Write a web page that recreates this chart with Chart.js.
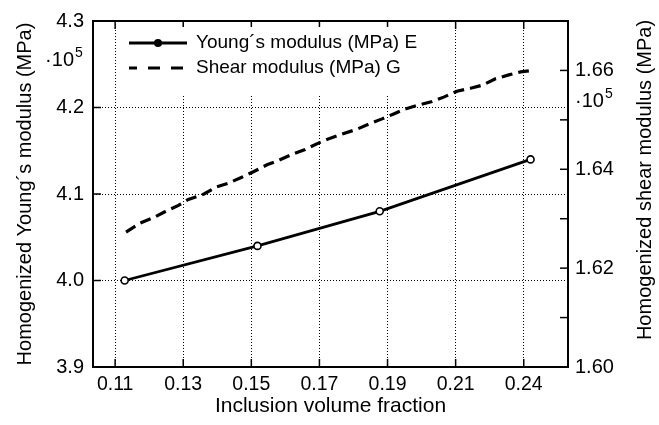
<!DOCTYPE html>
<html>
<head>
<meta charset="utf-8">
<script src="https://cdn.jsdelivr.net/npm/chart.js@4.4.1/dist/chart.umd.min.js"></script>
<style>
  html, body { margin: 0; padding: 0; background: #fff; }
  #wrap { width: 659px; height: 425px; }
</style>
</head>
<body>
<div id="wrap"><canvas id="myChart" width="659" height="425"></canvas></div>
<script>
// Young's modulus E (x 10^5 MPa) at four inclusion volume fractions
const fractionE = [0.1128, 0.1518, 0.1877, 0.2320];
const youngsE = [4.00, 4.04, 4.08, 4.14];

// Shear modulus G (x 10^5 MPa), traced densely
const fractionG = [0.1132, 0.1173, 0.1212, 0.1246, 0.1286, 0.1315, 0.1361, 0.1396, 0.1433, 0.1472,
    0.1506, 0.1546, 0.1580, 0.1619, 0.1658, 0.1697, 0.1732, 0.1766, 0.1810, 0.1844,
    0.1884, 0.1918, 0.1952, 0.1991, 0.2031, 0.2065, 0.2104, 0.2144, 0.2178, 0.2217,
    0.2256, 0.2291, 0.2315];
const shearG = [1.6273, 1.6291, 1.6302, 1.6314, 1.6327, 1.6339, 1.6350, 1.6364, 1.6372, 1.6384,
    1.6395, 1.6409, 1.6418, 1.6430, 1.6440, 1.6453, 1.6463, 1.6471, 1.6481, 1.6491,
    1.6502, 1.6512, 1.6522, 1.6530, 1.6537, 1.6546, 1.6558, 1.6564, 1.6570, 1.6583,
    1.6591, 1.6597, 1.6599];

const xTicks = [0.11, 0.13, 0.15, 0.17, 0.19, 0.21, 0.23];
const xTickLabels = ['0.11', '0.13', '0.15', '0.17', '0.19', '0.21', '0.24'];
const yLeftTicks = [3.9, 4.0, 4.1, 4.2, 4.3];
const yLeftLabels = ['3.9', '4.0', '4.1', '4.2', '4.3'];
const yRightTicks = [1.60, 1.61, 1.62, 1.63, 1.64, 1.65, 1.66, 1.67];
const yRightLabels = ['1.60', '', '1.62', '', '1.64', '', '1.66', ''];

const legendNames = ['Young\u00b4s modulus (MPa) E', 'Shear modulus (MPa) G'];

const FONT = 'Liberation Sans, Arial, Helvetica, sans-serif';
Chart.defaults.font.family = FONT;
Chart.defaults.color = '#000';

const data = {
    datasets: [{
        label: legendNames[0],
        data: fractionE.map((x, i) => ({ x: x, y: youngsE[i] })),
        yAxisID: 'y',
        borderColor: '#000',
        borderWidth: 2.8,
        pointRadius: 3.5,
        pointBorderWidth: 1.6,
        pointBackgroundColor: '#fff',
        pointBorderColor: '#000',
        tension: 0
    }, {
        label: legendNames[1],
        data: fractionG.map((x, i) => ({ x: x, y: shearG[i] })),
        yAxisID: 'y2',
        borderColor: '#000',
        borderWidth: 3.2,
        borderDash: [11, 6],
        pointRadius: 0,
        tension: 0
    }]
};

// frame, inward ticks, legend, exponent labels, right title
const decorations = {
    id: 'decorations',
    beforeDraw(chart) {
        const ctx = chart.ctx;
        ctx.save();
        ctx.fillStyle = '#fff';
        ctx.fillRect(0, 0, chart.width, chart.height);
        ctx.restore();
    },
    afterDraw(chart) {
        const { ctx, chartArea: a, scales } = chart;
        ctx.save();
        ctx.strokeStyle = '#000';
        ctx.fillStyle = '#000';
        ctx.lineWidth = 1.5;
        const seg = (x1, y1, x2, y2) => { ctx.beginPath(); ctx.moveTo(x1, y1); ctx.lineTo(x2, y2); ctx.stroke(); };
        const tl = 8;
        scales.x.ticks.forEach(t => {
            const px = scales.x.getPixelForValue(t.value);
            seg(px, a.bottom, px, a.bottom - tl);
            seg(px, a.top, px, a.top + tl);
        });
        scales.y.ticks.forEach(t => {
            const py = scales.y.getPixelForValue(t.value);
            seg(a.left, py, a.left + tl, py);
        });
        scales.y2.ticks.forEach(t => {
            const py = scales.y2.getPixelForValue(t.value);
            seg(a.right, py, a.right - tl, py);
        });
        ctx.lineWidth = 2;
        ctx.strokeRect(a.left, a.top, a.right - a.left, a.bottom - a.top);

        // legend
        ctx.fillStyle = '#fff';
        ctx.fillRect(121, 27, 305, 67);
        ctx.fillStyle = '#000';
        ctx.lineWidth = 2.8;
        seg(129, 43, 187, 43);
        ctx.beginPath(); ctx.arc(158, 43, 4, 0, Math.PI * 2); ctx.fill();
        ctx.lineWidth = 3.2;
        ctx.setLineDash([12, 11]);
        ctx.lineDashOffset = 4;
        seg(129, 68, 187, 68);
        ctx.setLineDash([]);
        ctx.font = '19px ' + FONT;
        ctx.textBaseline = 'middle';
        ctx.textAlign = 'left';
        ctx.fillText(legendNames[0], 196, 43);
        ctx.fillText(legendNames[1], 196, 68);

        // exponent labels
        ctx.textBaseline = 'alphabetic';
        ctx.font = '20px ' + FONT;
        ctx.textAlign = 'right';
        ctx.fillText('\u00b710', 74, 66);
        ctx.textAlign = 'left';
        ctx.font = '14px ' + FONT;
        ctx.fillText('5', 75, 57);
        ctx.font = '20px ' + FONT;
        ctx.fillText('\u00b710', 575, 107);
        const w = ctx.measureText('\u00b710').width;
        ctx.font = '14px ' + FONT;
        ctx.fillText('5', 575 + w + 1, 98);

        // right axis title
        ctx.translate(645, 180);
        ctx.rotate(-Math.PI / 2);
        ctx.font = '20px ' + FONT;
        ctx.textAlign = 'center';
        ctx.textBaseline = 'middle';
        ctx.fillText('Homogenized shear modulus (MPa)', 0, 0);
        ctx.restore();
    }
};

const config = {
    type: 'line',
    data: data,
    options: {
        responsive: false,
        animation: false,
        layout: { padding: { top: 13, left: 0, right: 0, bottom: 0 } },
        plugins: { legend: { display: false }, tooltip: { enabled: false } },
        scales: {
            x: {
                type: 'linear',
                min: 0.1035,
                max: 0.2430,
                afterBuildTicks: s => { s.ticks = xTicks.map(v => ({ value: v })); },
                afterFit: s => { s.height = 58; },
                ticks: {
                    font: { size: 19.5 },
                    padding: 6,
                    maxRotation: 0,
                    callback: (v, i) => xTickLabels[i]
                },
                grid: { color: '#000', lineWidth: 1, drawTicks: false },
                border: { display: false, dash: [1, 2] },
                title: {
                    display: true,
                    text: 'Inclusion volume fraction',
                    font: { size: 21 },
                    padding: { top: 0, bottom: 6 }
                }
            },
            y: {
                type: 'linear',
                position: 'left',
                min: 3.9,
                max: 4.3,
                afterBuildTicks: s => { s.ticks = yLeftTicks.map(v => ({ value: v })); },
                afterFit: s => { s.width = 93; },
                ticks: {
                    font: { size: 20 },
                    padding: 9,
                    callback: (v, i) => yLeftLabels[i]
                },
                grid: { color: '#000', lineWidth: 1, drawTicks: false },
                border: { display: false, dash: [1, 2] },
                title: {
                    display: true,
                    text: 'Homogenized Young\u00b4s modulus (MPa)',
                    font: { size: 20 },
                    padding: { top: 13, bottom: 0 }
                }
            },
            y2: {
                type: 'linear',
                position: 'right',
                min: 1.60,
                max: 1.67,
                afterBuildTicks: s => { s.ticks = yRightTicks.map(v => ({ value: v })); },
                afterFit: s => { s.width = 91; },
                ticks: {
                    font: { size: 20 },
                    padding: 7,
                    autoSkip: false,
                    callback: (v, i) => yRightLabels[i]
                },
                grid: { drawOnChartArea: false, drawTicks: false },
                border: { display: false }
            }
        }
    },
    plugins: [decorations]
};

const myChart = new Chart(
    document.getElementById('myChart'),
    config
);
</script>
</body>
</html>
